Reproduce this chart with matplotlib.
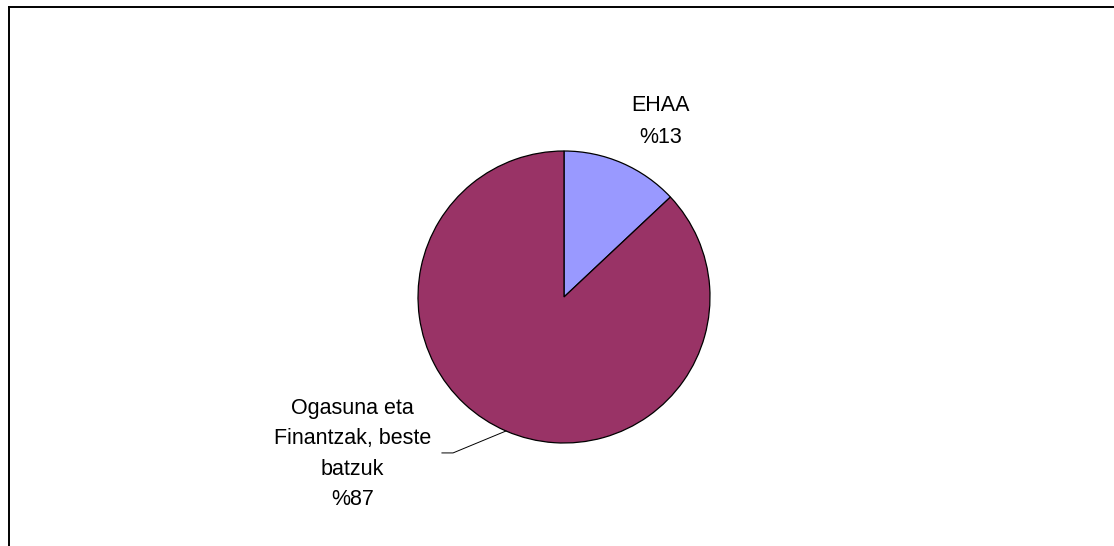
import numpy as np
import matplotlib.pyplot as plt
from matplotlib.lines import Line2D

plt.rcParams['font.family'] = ['Liberation Sans', 'DejaVu Sans']

labels = ['EHAA', 'Ogasuna eta\nFinantzak, beste\nbatzuk']
values = [13, 87]
colors = ['#9999ff', '#993366']

W, H = 1114, 546
cx, cy, r = 564, 297, 146  # pie centre and radius, pixels

fig = plt.figure(figsize=(W / 100, H / 100), dpi=100)
ax = fig.add_axes([(cx - r) / W, (H - cy - r) / H, 2 * r / W, 2 * r / H])
wedges, _ = ax.pie(values, colors=colors, startangle=90, counterclock=False,
                   wedgeprops=dict(edgecolor='black', linewidth=0.9))
ax.set_xlim(-1, 1)
ax.set_ylim(-1, 1)
ax.set_aspect('equal')
ax.axis('off')

total = sum(values)
pct = ['%' + str(round(v * 100 / total)) for v in values]

# EHAA label above right of its slice
ax.text(0.66, 1.20, labels[0] + '\n' + pct[0], ha='center', va='center',
        fontsize=15.5, linespacing=1.67, color='black')

# big slice label with leader line
w = wedges[1]
mid = np.deg2rad((w.theta1 + w.theta2) / 2)
rim = (np.cos(mid), np.sin(mid))
tx, ty = -1.45, -1.075
ax.text(tx, ty, labels[1] + '\n' + pct[1], ha='center', va='center',
        fontsize=15.5, linespacing=1.57, color='black')
ax.plot([-0.836, -0.76, rim[0]], [-1.068, -1.068, rim[1]],
        color='black', linewidth=0.7, clip_on=False)

# chart area frame (only left and top edges visible)
fig.add_artist(Line2D([9 / W, 9 / W], [0, 1 - 7 / H], color='black', linewidth=1.4))
fig.add_artist(Line2D([9 / W, 1], [1 - 7 / H, 1 - 7 / H], color='black', linewidth=1.4))

fig.savefig('out.png', dpi=100)
